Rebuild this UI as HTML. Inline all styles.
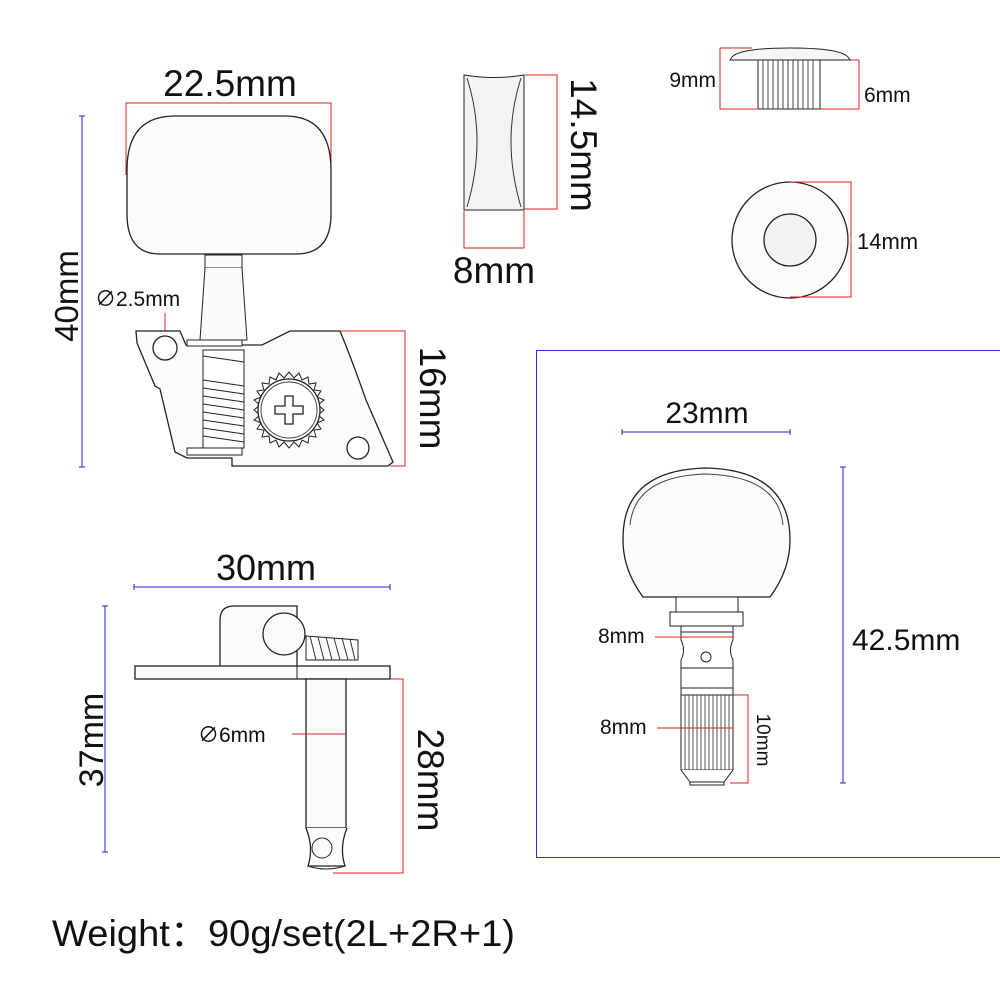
<!DOCTYPE html>
<html><head><meta charset="utf-8"><style>
html,body{margin:0;padding:0;background:#fff;}
svg{display:block;font-family:"Liberation Sans","Noto Sans CJK SC",sans-serif;}
</style></head><body>
<svg width="1000" height="1000" viewBox="0 0 1000 1000" xmlns="http://www.w3.org/2000/svg">
<g fill="none" stroke-width="1">
<!-- ===== Top-left tuner ===== -->
<path d="M126,175 V103 H331 V175" stroke="#e02020"/>
<text x="230" y="96" font-size="37" text-anchor="middle" fill="#111" stroke="none">22.5mm</text>
<line x1="82" y1="116" x2="82" y2="467" stroke="#2222cc"/>
<path d="M79,116h6M79,467h6" stroke="#2222cc"/>
<text transform="translate(78,296) rotate(-90)" font-size="33" text-anchor="middle" fill="#111" stroke="none">40mm</text>
<path d="M175,116 H285 Q331,116 331,170 V214 Q331,254 296,254 H160 Q127,254 127,214 V170 Q127,116 175,116 Z" stroke="#222" stroke-width="1.3" fill="#fbfbfb"/>
<rect x="205" y="255" width="37" height="13" stroke="#222" fill="#fafafa"/>
<path d="M205,268 L200,340 H247 L242,268" stroke="#222" fill="#fafafa"/>
<text x="95" y="306" font-size="21" fill="#111" stroke="none">∅2.5mm</text>
<line x1="165" y1="313" x2="165" y2="348" stroke="#e02020"/>
<path d="M136,331 H180 L186,345 H262 L290,331 H340 Q352,360 366,400 L393,462 L388,466 H232 L232,458 H187 L175,452 L160,389 L155,386 L137,343 Z" stroke="#222" stroke-width="1.3" fill="#fbfbfb"/>
<circle cx="165" cy="348" r="12" stroke="#222" stroke-width="1.3" fill="#fff"/>
<rect x="187" y="340" width="55" height="6" stroke="#222" fill="#fff"/>
<rect x="187" y="448" width="55" height="7" stroke="#222" fill="#fff"/>
<rect x="203" y="350" width="41" height="98" stroke="#222" fill="#fff"/>
<g stroke="#222">
<path d="M203,356 L244,362 M203,380 L244,386 M203,388 L244,394 M203,396 L244,402 M203,404 L244,410 M203,412 L244,418 M203,420 L244,426 M203,428 L244,434 M203,436 L244,442"/>
</g>
<polygon points="289,372 294,378 299,373 302,380 308,377 309,384 316,383 314,390 321,391 317,397 324,400 318,405 324,410 318,415 324,420 317,423 321,429 314,430 316,437 309,436 308,443 302,440 299,447 294,442 289,448 284,442 279,447 276,440 270,443 269,436 262,437 264,430 257,429 261,423 254,420 260,415 254,410 260,405 254,400 261,397 257,391 264,390 262,383 269,384 270,377 276,380 279,373 284,378" stroke="#222" fill="#fff"/>
<circle cx="289" cy="410" r="31" stroke="#222" fill="#fff" stroke-width="1.3"/>
<circle cx="289" cy="410" r="28" stroke="#444" fill="#fff"/>
<path d="M285,396 h8 v10 h10 v8 h-10 v10 h-8 v-10 h-10 v-8 h10 Z" stroke="#222" stroke-width="1.3"/>
<circle cx="358" cy="448" r="11" stroke="#222" stroke-width="1.3" fill="#fff"/>
<path d="M340,331 H405 V466 H390" stroke="#e02020"/>
<text transform="translate(420,398) rotate(90)" font-size="37" text-anchor="middle" fill="#111" stroke="none">16mm</text>

<!-- ===== Top-middle button ===== -->
<path d="M464,75 Q494,80 524,75 V210 H464 Z" stroke="#222" fill="#f3f3f3"/>
<path d="M467,78 Q487,140 467,207 M521,78 Q501,140 521,207" stroke="#333"/>
<path d="M524,75 H557 V209 H524" stroke="#e02020"/>
<text transform="translate(571,145) rotate(90)" font-size="37" text-anchor="middle" fill="#111" stroke="none">14.5mm</text>
<path d="M464,211 V248 H524 V211" stroke="#e02020"/>
<text x="494" y="283" font-size="37" text-anchor="middle" fill="#111" stroke="none">8mm</text>

<!-- ===== Top-right bushing ===== -->
<path d="M720,48 H752 M720,48 V109 H757" stroke="#e02020"/>
<path d="M820,109 H859 V60 H850" stroke="#e02020"/>
<path d="M732,57 Q740,48 790,48 Q840,48 848,57 L850,60 H730 Z" stroke="#222" fill="#f6f6f6"/>
<rect x="758" y="60" width="62" height="49" stroke="#222" fill="#fff"/>
<g stroke="#444">
<path d="M763,60V109M768,60V109M773,60V109M778,60V109M783,60V109M788,60V109M793,60V109M798,60V109M803,60V109M808,60V109M813,60V109"/>
</g>
<text x="716" y="87" font-size="21" text-anchor="end" fill="#111" stroke="none">9mm</text>
<text x="864" y="102" font-size="21" fill="#111" stroke="none">6mm</text>
<circle cx="790" cy="240" r="58" stroke="#222" stroke-width="1.3" fill="#fbfbfb"/>
<circle cx="790" cy="240" r="26" stroke="#222" stroke-width="1.3" fill="#f2f2f2"/>
<path d="M790,182 H851 V297 H790" stroke="#e02020"/>
<text x="857" y="249" font-size="22" fill="#111" stroke="none">14mm</text>

<!-- ===== Blue frame ===== -->
<rect x="536.5" y="350.5" width="470" height="507" stroke="#3333cc"/>
<text x="707" y="423" font-size="30" text-anchor="middle" fill="#111" stroke="none">23mm</text>
<line x1="622" y1="432" x2="790" y2="432" stroke="#2222cc"/>
<path d="M622,429v6M790,429v6" stroke="#2222cc"/>
<path d="M623,540 Q622,470 706,468 Q790,470 790,540 Q790,570 770,597 H643 Q623,570 623,540 Z" stroke="#222" stroke-width="1.3" fill="#fbfbfb"/>
<path d="M630,525 Q635,476 706,474 Q778,476 783,525" stroke="#444"/>
<rect x="676" y="597" width="62" height="15" stroke="#222" fill="#fff"/>
<rect x="670" y="612" width="73" height="14" stroke="#222" fill="#fff"/>
<path d="M681,626 V640 Q686,650 681,660 V688 H733 V660 Q728,650 733,640 V626 Z" stroke="#222" fill="#fff"/>
<path d="M681,632H733M681,668H733" stroke="#222"/>
<circle cx="706" cy="657" r="5" stroke="#222"/>
<rect x="681" y="688" width="52" height="7" stroke="#222" fill="#fff"/>
<rect x="681" y="695" width="52" height="75" stroke="#222" fill="#fff"/>
<g stroke="#555">
<path d="M685,695V770M689,695V770M693,695V770M697,695V770M701,695V770M705,695V770M709,695V770M713,695V770M717,695V770M721,695V770M725,695V770M729,695V770"/>
</g>
<path d="M681,770 L690,782 H724 L733,770" stroke="#222" fill="#fff"/>
<rect x="690" y="782" width="34" height="3" stroke="#222"/>
<text x="598" y="643" font-size="21" fill="#111" stroke="none">8mm</text>
<line x1="655" y1="637" x2="733" y2="637" stroke="#e02020"/>
<text x="600" y="734" font-size="21" fill="#111" stroke="none">8mm</text>
<line x1="657" y1="728" x2="733" y2="728" stroke="#e02020"/>
<path d="M733,695 H748 V783 H730" stroke="#e02020"/>
<text transform="translate(757,740) rotate(90)" font-size="19" text-anchor="middle" fill="#111" stroke="none">10mm</text>
<line x1="843" y1="467" x2="843" y2="783" stroke="#2222cc"/>
<path d="M840,467h6M840,783h6" stroke="#2222cc"/>
<text x="852" y="650" font-size="30" fill="#111" stroke="none">42.5mm</text>

<!-- ===== Bottom-left side view ===== -->
<text x="266" y="580" font-size="36" text-anchor="middle" fill="#111" stroke="none">30mm</text>
<line x1="134" y1="587" x2="390" y2="587" stroke="#2222cc"/>
<path d="M134,584v6M390,584v6" stroke="#2222cc"/>
<line x1="105" y1="606" x2="105" y2="852" stroke="#2222cc"/>
<path d="M102,606h6M102,852h6" stroke="#2222cc"/>
<text transform="translate(103,740) rotate(-90)" font-size="34" text-anchor="middle" fill="#111" stroke="none">37mm</text>
<path d="M220,666 V620 Q220,606 234,606 H297 V666" stroke="#222" stroke-width="1.3" fill="#fbfbfb"/>
<path d="M306,636 L358,640 L358,660 L306,660 Z" stroke="#222" fill="#fff"/>
<g stroke="#333"><path d="M310,636L316,660M318,637L324,660M326,637L332,660M334,638L340,660M342,638L348,660M350,639L355,660"/></g>
<circle cx="284" cy="634" r="21" stroke="#222" stroke-width="1.3" fill="#fbfbfb"/>
<rect x="135" y="666" width="255" height="13" stroke="#222" stroke-width="1.3" fill="#fbfbfb"/>
<line x1="297" y1="666" x2="297" y2="679" stroke="#222"/>
<rect x="306" y="679" width="40" height="149" stroke="#222" stroke-width="1.3" fill="#fbfbfb"/>
<path d="M306,828 Q314,848 308,866 H345 Q339,848 347,828" stroke="#222" stroke-width="1.3" fill="#fbfbfb"/>
<circle cx="322" cy="848" r="10" stroke="#222"/>
<path d="M308,866 Q326,872 345,866" stroke="#222"/>
<text x="198" y="742" font-size="21" fill="#111" stroke="none">∅6mm</text>
<line x1="292" y1="734" x2="346" y2="734" stroke="#e02020"/>
<path d="M390,679 H403 V873 H333" stroke="#e02020"/>
<text transform="translate(418,780) rotate(90)" font-size="37" text-anchor="middle" fill="#111" stroke="none">28mm</text>
</g>
<text x="52" y="946" font-size="37" fill="#111" textLength="463" lengthAdjust="spacingAndGlyphs">Weight：90g/set(2L+2R+1)</text>
</svg>
</body></html>
